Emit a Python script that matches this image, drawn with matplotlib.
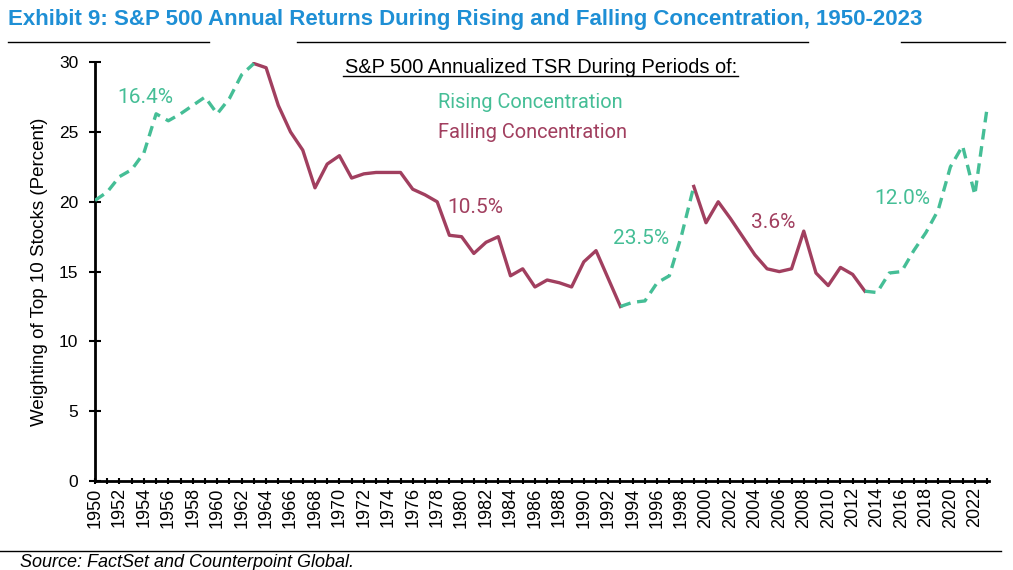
import matplotlib

matplotlib.use('agg')
import matplotlib.pyplot as plt
from matplotlib.ticker import MultipleLocator

years = list(range(1950, 2024))
weights = [20.1, 20.7, 21.8, 22.3, 23.5, 26.3, 25.8, 26.3, 26.9, 27.5,
           26.3, 27.4, 29.1, 29.9, 29.6, 26.9, 25.0, 23.7, 21.0, 22.7,
           23.3, 21.7, 22.0, 22.1, 22.1, 22.1, 20.9, 20.5, 20.0, 17.6,
           17.5, 16.3, 17.1, 17.5, 14.7, 15.2, 13.9, 14.4, 14.2, 13.9,
           15.7, 16.5, 14.5, 12.5, 12.8, 12.9, 14.2, 14.7, 17.6, 21.1,
           18.5, 20.0, 18.8, 17.5, 16.2, 15.2, 15.0, 15.2, 17.9, 14.9,
           14.0, 15.3, 14.8, 13.6, 13.5, 14.9, 15.0, 16.5, 17.8, 19.4,
           22.5, 24.0, 20.5, 26.7]

# (start, end, kind) periods
periods = [(1950, 1963, 'rising'), (1963, 1993, 'falling'), (1993, 1999, 'rising'),
           (1999, 2013, 'falling'), (2013, 2023, 'rising')]
tsr_labels = ['16.4%', '10.5%', '23.5%', '3.6%', '12.0%']
label_pos = [(1951.8, 27.5), (1978.8, 19.6), (1992.4, 17.4), (2003.7, 18.5), (2013.8, 20.2)]

teal = '#45BE96'
maroon = '#A13F5F'
blue = '#1E8FD5'

fig = plt.figure(figsize=(10.13, 5.70), dpi=100)
ax = fig.add_axes([0.0938, 0.156, 0.883, 0.735])

for (s, e, kind) in periods:
    i0 = years.index(s)
    i1 = years.index(e) + 1
    if kind == 'rising':
        ax.plot(years[i0:i1], weights[i0:i1], color=teal, lw=2.4, ls=(0, (3.2, 2.0)),
                zorder=3)
    else:
        ax.plot(years[i0:i1], weights[i0:i1], color=maroon, lw=2.4, zorder=2)

for (s, e, kind), txt, (lx, ly) in zip(periods, tsr_labels, label_pos):
    ax.text(lx, ly, txt, color=teal if kind == 'rising' else maroon,
            fontsize=15, ha='left', va='center', family='Roboto')

ax.set_xlim(1950, 2023.2)
ax.set_ylim(0, 30)
ax.xaxis.set_minor_locator(MultipleLocator(1))
ax.yaxis.set_major_locator(MultipleLocator(5))
ax.set_xticks(years[::2])
ax.set_xticklabels([str(y) for y in years[::2]], rotation=90, fontsize=13,
                   family='Liberation Sans')
for lab in ax.get_yticklabels():
    lab.set_fontsize(12.5)
    lab.set_family('Liberation Sans')
ax.tick_params(axis='x', which='both', direction='inout', length=5, width=1.5, pad=2)
ax.tick_params(axis='y', which='major', direction='inout', length=8, width=1.5, pad=8)
for side in ['top', 'right']:
    ax.spines[side].set_visible(False)
for side in ['left', 'bottom']:
    ax.spines[side].set_linewidth(2)

ax.set_ylabel('Weighting of Top 10 Stocks (Percent)', fontsize=13.5,
              family='Liberation Sans', labelpad=8)

# legend block
fig.text(0.534, 0.882, 'S&P 500 Annualized TSR During Periods of:', fontsize=14.4,
         ha='center', va='center', family='Liberation Sans')
fig.add_artist(plt.Line2D([0.339, 0.729], [0.866, 0.866], color='black', lw=1))
fig.text(0.432, 0.821, 'Rising Concentration', color=teal, fontsize=14.4,
         ha='left', va='center', family='Roboto')
fig.text(0.432, 0.768, 'Falling Concentration', color=maroon, fontsize=14.4,
         ha='left', va='center', family='Roboto')

fig.text(0.008, 0.965, 'Exhibit 9: S&P 500 Annual Returns During Rising and Falling Concentration, 1950-2023',
         color=blue, fontsize=16, fontweight='bold', ha='left', va='center',
         family='Liberation Sans')
for x0, x1 in [(0.008, 0.206), (0.293, 0.798), (0.889, 0.992)]:
    fig.add_artist(plt.Line2D([x0, x1], [0.926, 0.926], color='black', lw=1))

fig.add_artist(plt.Line2D([0.0, 0.988], [0.033, 0.033], color='black', lw=1))
fig.text(0.02, 0.013, 'Source: FactSet and Counterpoint Global.', fontsize=13,
         style='italic', ha='left', va='center', family='Liberation Sans')

fig.savefig('out.png', dpi=100)
